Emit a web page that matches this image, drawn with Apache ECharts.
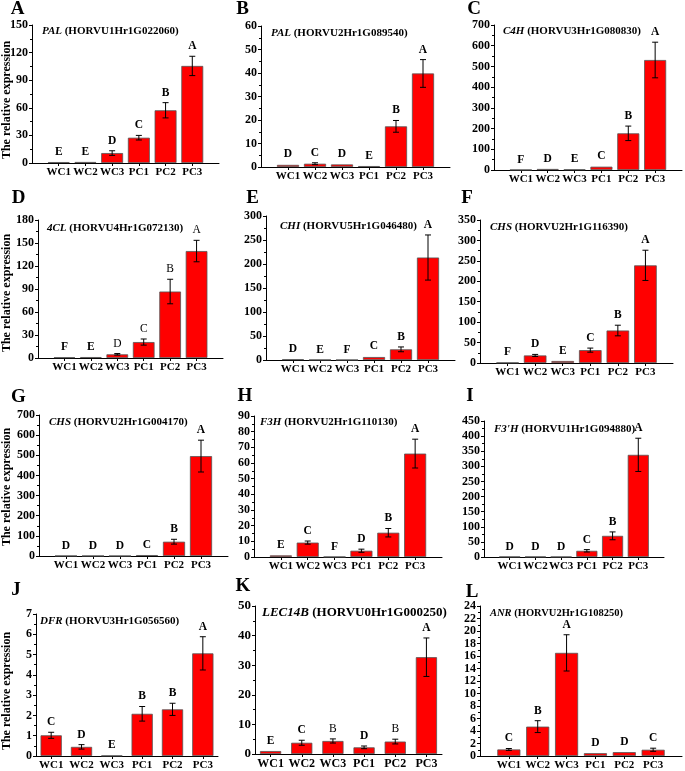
<!DOCTYPE html>
<html><head><meta charset="utf-8">
<script src="https://cdn.jsdelivr.net/npm/echarts@6/dist/echarts.min.js"></script>
<style>html,body{margin:0;padding:0;background:#fff}#c{width:685px;height:771px}</style>
</head><body><div id="c"></div>
<script>
// ---------- data ----------
const categories = ['WC1', 'WC2', 'WC3', 'PC1', 'PC2', 'PC3'];
const panelLabels = ['A', 'B', 'C', 'D', 'E', 'F', 'G', 'H', 'I', 'J', 'K', 'L'];
const geneNames = ['PAL', 'PAL', 'C4H', '4CL', 'CHI', 'CHS', 'CHS', 'F3H', "F3'H", 'DFR', 'LEC14B', 'ANR'];
const geneIds = ['HORVU1Hr1G022060', 'HORVU2Hr1G089540', 'HORVU3Hr1G080830', 'HORVU4Hr1G072130',
  'HORVU5Hr1G046480', 'HORVU2Hr1G116390', 'HORVU2Hr1G004170', 'HORVU2Hr1G110130',
  'HORVU1Hr1G094880', 'HORVU3Hr1G056560', 'HORVU0Hr1G000250', 'HORVU2Hr1G108250'];
const yTitle = 'The relative expression';

const valuesA = [1.0, 1.1, 10.8, 27.5, 57.3, 105.5];
const errorsA = [0.3, 0.3, 2.5, 2.5, 8.3, 10.5];
const lettersA = ['E', 'E', 'D', 'C', 'B', 'A'];

const valuesB = [0.9, 1.4, 1.1, 0.4, 17.3, 39.8];
const errorsB = [0.2, 0.4, 0.2, 0.1, 2.5, 5.9];
const lettersB = ['D', 'C', 'D', 'E', 'B', 'A'];

const valuesC = [1, 5, 3, 16, 177, 531];
const errorsC = [0.3, 1, 0.6, 3, 35, 86];
const lettersC = ['F', 'D', 'E', 'C', 'B', 'A'];

const valuesD = [1.0, 1.2, 4.8, 20.8, 86.7, 139.5];
const errorsD = [0.2, 0.3, 1.0, 4.0, 16, 14];
const lettersD = ['F', 'E', 'D', 'C', 'B', 'A'];

const valuesE = [1.5, 0.5, 0.2, 6.2, 22.2, 213.5];
const errorsE = [0.3, 0.1, 0.05, 1.5, 5, 47];
const lettersE = ['D', 'E', 'F', 'C', 'B', 'A'];

const valuesF = [1.0, 18.5, 4.9, 31.5, 79.5, 239];
const errorsF = [0.3, 2.5, 1.0, 5, 13, 37];
const lettersF = ['F', 'D', 'E', 'C', 'B', 'A'];

const valuesG = [1.0, 0.8, 0.5, 4.5, 71, 496];
const errorsG = [0.2, 0.2, 0.1, 1, 12, 79];
const lettersG = ['D', 'D', 'D', 'C', 'B', 'A'];

const valuesH = [1.05, 9.2, 0.1, 4.0, 15.5, 66];
const errorsH = [0.3, 1.0, 0.05, 1.0, 2.7, 9.2];
const lettersH = ['E', 'C', 'F', 'D', 'B', 'A'];

const valuesI = [1.0, 1.0, 0.8, 20.5, 70, 338];
const errorsI = [0.2, 0.2, 0.2, 4, 13, 55];
const lettersI = ['D', 'D', 'D', 'C', 'B', 'A'];

const valuesJ = [1.02, 0.45, 0.02, 2.08, 2.3, 5.06];
const errorsJ = [0.15, 0.11, 0.005, 0.36, 0.3, 0.82];
const lettersJ = ['C', 'D', 'E', 'B', 'B', 'A'];

const valuesK = [1.0, 3.8, 4.4, 2.25, 4.2, 32.7];
const errorsK = [0.15, 0.85, 0.7, 0.45, 0.8, 6.5];
const lettersK = ['E', 'C', 'B', 'D', 'B', 'A'];

const valuesL = [1.05, 4.7, 16.5, 0.45, 0.62, 1.0];
const errorsL = [0.15, 0.95, 2.9, 0.05, 0.07, 0.25];
const lettersL = ['C', 'B', 'A', 'D', 'D', 'C'];

const yMax = [150, 60, 700, 180, 300, 350, 700, 90, 450, 7, 50, 24];
const yStep = [30, 10, 100, 30, 50, 50, 100, 10, 50, 1, 10, 2];
// letters printed in regular (non-bold) weight: panel index -> bar indexes
const regularLetters = {3: [2, 3, 4, 5], 10: [2, 4]};

const values = [valuesA, valuesB, valuesC, valuesD, valuesE, valuesF, valuesG, valuesH, valuesI, valuesJ, valuesK, valuesL];
const errors = [errorsA, errorsB, errorsC, errorsD, errorsE, errorsF, errorsG, errorsH, errorsI, errorsJ, errorsK, errorsL];
const letters = [lettersA, lettersB, lettersC, lettersD, lettersE, lettersF, lettersG, lettersH, lettersI, lettersJ, lettersK, lettersL];

// ---------- layout (pixels) ----------
const FONT = 'Liberation Serif';
const layout = [
  {l: 32, t: 25, r: 219, b: 163, pad: true, bw: '82%', lx: 17.5, ly: 9, tx: 42, ty: 31, tfs: 11},
  {l: 261, t: 26, r: 450, b: 167, pad: true, bw: '82%', lx: 242.5, ly: 9, tx: 271, ty: 33, tfs: 11},
  {l: 494, t: 25, r: 683, b: 170, pad: true, bw: '82%', lx: 474, ly: 9, tx: 503, ty: 31.5, tfs: 11},
  {l: 38, t: 220, r: 223, b: 358, pad: true, bw: '82%', lx: 18.5, ly: 198, tx: 47, ty: 228, tfs: 11},
  {l: 266, t: 216, r: 455, b: 360, pad: true, bw: '82%', lx: 252.5, ly: 198, tx: 280, ty: 226, tfs: 11},
  {l: 480, t: 220, r: 673, b: 363, pad: true, bw: '82%', lx: 467, ly: 198, tx: 490, ty: 227, tfs: 11},
  {l: 39, t: 415, r: 228, b: 556, pad: true, bw: '82%', lx: 18.5, ly: 397, tx: 49, ty: 422, tfs: 11},
  {l: 254, t: 416, r: 442, b: 557, pad: true, bw: '82%', lx: 245, ly: 396, tx: 260, ty: 422, tfs: 11},
  {l: 484, t: 421, r: 664, b: 557, pad: true, bw: '82%', lx: 470, ly: 396, tx: 494, ty: 429, tfs: 11},
  {l: 36, t: 614, r: 218, b: 757, pad: false, bw: '70%', lx: 16, ly: 590, tx: 40, ty: 621, tfs: 11},
  {l: 255, t: 606, r: 442, b: 754, pad: false, bw: '68%', lx: 243, ly: 586, tx: 262, ty: 613, tfs: 13},
  {l: 480, t: 606, r: 683, b: 757, pad: true, bw: '80%', lx: 472, ly: 592, tx: 490, ty: 613, tfs: 10.5}
];
const yTitlePos = [[7, 100], [7, 293], [7, 487], [7, 691]];

function makeErr(p) {
  return function (params, api) {
    const i = params.dataIndex;
    const x = api.value(0), v = api.value(1), e = api.value(2);
    const top = api.coord([x, v + e]);
    const bot = api.coord([x, Math.max(v - e, 0)]);
    const cx = top[0], hw = 3;
    const st = {stroke: '#000', lineWidth: 1};
    const children = [];
    if (bot[1] - top[1] > 1.5) {
      children.push({type: 'line', shape: {x1: cx, y1: top[1], x2: cx, y2: bot[1]}, style: st});
      children.push({type: 'line', shape: {x1: cx - hw, y1: top[1], x2: cx + hw, y2: top[1]}, style: st});
      children.push({type: 'line', shape: {x1: cx - hw, y1: bot[1], x2: cx + hw, y2: bot[1]}, style: st});
    }
    const reg = regularLetters[p] && regularLetters[p].indexOf(i) >= 0;
    children.push({type: 'text', x: cx, y: top[1] - 4, style: {
      text: letters[p][i], fontFamily: FONT, fontWeight: reg ? 'normal' : 'bold', fontSize: 11.5,
      fill: '#000', align: 'center', verticalAlign: 'bottom'}});
    return {type: 'group', children: children};
  };
}

const grids = [], xAxes = [], yAxes = [], series = [], graphics = [];
for (let p = 0; p < 12; p++) {
  const L = layout[p];
  grids.push({left: L.l, top: L.t, width: L.r - L.l, height: L.b - L.t, containLabel: false});
  const pad = L.pad;
  const xData = pad ? [''].concat(categories, ['']) : categories.slice();
  const off = pad ? 1 : 0;
  const xfs = p === 10 ? 12 : 11;
  xAxes.push({
    gridIndex: p, type: 'category', data: xData, boundaryGap: !pad,
    axisLine: {lineStyle: {color: '#000', width: 1}},
    axisTick: {show: true, length: 3, alignWithLabel: true, lineStyle: {color: '#000'},
      interval: pad ? function (idx) { return idx > 0 && idx < 7; } : 0},
    axisLabel: {interval: 0, margin: 4, color: '#000', fontFamily: FONT, fontWeight: 'bold', fontSize: xfs}
  });
  yAxes.push({
    gridIndex: p, type: 'value', min: 0, max: yMax[p], interval: yStep[p],
    axisLine: {show: true, lineStyle: {color: '#000', width: 1}},
    axisTick: {show: true, length: 3, lineStyle: {color: '#000'}},
    minorTick: {show: true, splitNumber: 2, length: 2, lineStyle: {color: '#000'}},
    splitLine: {show: false},
    axisLabel: {margin: 4, color: '#000', fontFamily: FONT, fontWeight: 'bold', fontSize: p === 10 ? 13 : 12}
  });
  const barData = pad ? ['-'].concat(values[p], ['-']) : values[p].slice();
  series.push({
    type: 'bar', xAxisIndex: p, yAxisIndex: p, data: barData, barWidth: L.bw,
    itemStyle: {color: '#ff0000', borderColor: '#555', borderWidth: 0.8},
    silent: true, animation: false
  });
  series.push({
    type: 'custom', xAxisIndex: p, yAxisIndex: p, z: 10, silent: true, animation: false,
    data: values[p].map(function (v, i) { return [i + off, v, errors[p][i]]; }),
    encode: {x: 0, y: 1},
    renderItem: makeErr(p)
  });
  graphics.push({type: 'text', x: L.lx, y: L.ly, style: {
    text: panelLabels[p], fontFamily: FONT, fontWeight: 'bold', fontSize: 19, fill: '#000',
    align: 'center', verticalAlign: 'middle'}});
  graphics.push({type: 'text', x: L.tx, y: L.ty, style: {
    text: '{i|' + geneNames[p] + '} (' + geneIds[p] + ')',
    fontFamily: FONT, fontWeight: 'bold', fontSize: L.tfs, fill: '#000',
    align: 'left', verticalAlign: 'middle',
    rich: {i: {fontFamily: FONT, fontWeight: 'bold', fontStyle: 'italic', fontSize: L.tfs, fill: '#000'}}}});
}
yTitlePos.forEach(function (pos) {
  graphics.push({type: 'text', x: pos[0], y: pos[1], rotation: Math.PI / 2, style: {
    text: yTitle, fontFamily: FONT, fontWeight: 'bold', fontSize: 12, fill: '#000',
    align: 'center', verticalAlign: 'middle'}});
});

const chart = echarts.init(document.getElementById('c'), null, {renderer: 'canvas'});
chart.setOption({
  backgroundColor: '#fff',
  animation: false,
  grid: grids, xAxis: xAxes, yAxis: yAxes, series: series, graphic: graphics
});
</script></body></html>
